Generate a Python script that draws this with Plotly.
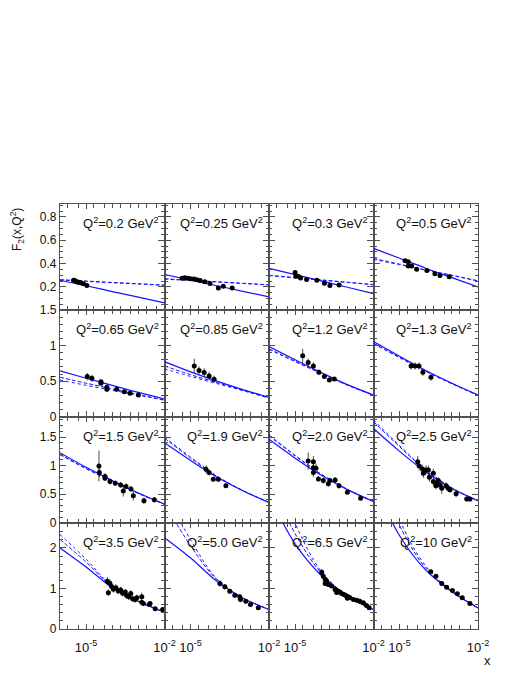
import plotly.graph_objects as go
from plotly.subplots import make_subplots

# ---------------- data ----------------
Q2_LABELS = ["0.2", "0.25", "0.3", "0.5",
             "0.65", "0.85", "1.2", "1.3",
             "1.5", "1.9", "2.0", "2.5",
             "3.5", "5.0", "6.5", "10"]

# x positions where the model curves are read
X_CURVE = [1e-6, 1e-5, 1e-4, 1e-3, 1e-2]

# model curves (solid / dashed / dotted) per panel
solid_1 = [0.257, 0.21, 0.16, 0.112, 0.063]
dash_1 = [0.262, 0.25, 0.238, 0.227, 0.215]
dot_1 = [0.259, 0.247, 0.236, 0.225, 0.213]
solid_2 = [0.306, 0.258, 0.21, 0.162, 0.114]
dash_2 = [0.27, 0.257, 0.244, 0.231, 0.218]
dot_2 = [0.266, 0.254, 0.242, 0.229, 0.216]
solid_3 = [0.358, 0.305, 0.251, 0.197, 0.143]
dash_3 = [0.30, 0.28, 0.26, 0.24, 0.22]
dot_3 = [0.296, 0.277, 0.258, 0.238, 0.218]
solid_4 = [0.53, 0.445, 0.36, 0.28, 0.20]
dash_4 = [0.444, 0.395, 0.345, 0.30, 0.252]
dot_4 = [0.435, 0.39, 0.343, 0.298, 0.25]
solid_5 = [0.643, 0.54, 0.44, 0.34, 0.247]
dash_5 = [0.554, 0.47, 0.39, 0.31, 0.233]
dot_5 = [0.516, 0.44, 0.37, 0.30, 0.23]
solid_6 = [0.775, 0.63, 0.50, 0.38, 0.27]
dash_6 = [0.714, 0.59, 0.48, 0.37, 0.262]
dot_6 = [0.672, 0.565, 0.465, 0.365, 0.26]
solid_7 = [0.987, 0.80, 0.62, 0.45, 0.304]
dash_7 = [0.955, 0.78, 0.61, 0.445, 0.30]
dot_7 = [0.945, 0.775, 0.607, 0.443, 0.30]
solid_8 = [1.058, 0.85, 0.65, 0.47, 0.304]
dash_8 = [1.035, 0.835, 0.64, 0.465, 0.30]
dot_8 = [1.025, 0.83, 0.638, 0.463, 0.30]
solid_9 = [1.227, 0.97, 0.74, 0.52, 0.326]
dash_9 = [1.20, 0.95, 0.73, 0.515, 0.325]
dot_9 = [1.19, 0.945, 0.727, 0.513, 0.324]
solid_10 = [1.40, 1.09, 0.80, 0.56, 0.355]
dash_10 = [1.48, 1.13, 0.81, 0.56, 0.355]
dot_10 = [1.50, 1.15, 0.82, 0.565, 0.356]
solid_11 = [1.46, 1.13, 0.83, 0.58, 0.372]
dash_11 = [1.54, 1.18, 0.85, 0.585, 0.373]
dot_11 = [1.52, 1.17, 0.845, 0.583, 0.372]
solid_12 = [1.65, 1.25, 0.89, 0.60, 0.384]
dash_12 = [1.77, 1.33, 0.92, 0.61, 0.386]
dot_12 = [1.80, 1.35, 0.93, 0.612, 0.386]
solid_13 = [2.0, 1.53, 1.02, 0.68, 0.415]
dash_13 = [2.21, 1.65, 1.04, 0.685, 0.415]
dot_13 = [2.33, 1.72, 1.05, 0.687, 0.416]
solid_14 = [2.25, 1.75, 1.18, 0.76, 0.48]
dash_14 = [3.1, 2.05, 1.22, 0.765, 0.48]
dot_14 = [3.4, 2.2, 1.24, 0.77, 0.48]
solid_15 = [3.3, 2.1, 1.32, 0.80, 0.48]
dash_15 = [3.7, 2.35, 1.38, 0.81, 0.48]
dot_15 = [4.2, 2.6, 1.42, 0.82, 0.48]
solid_16 = [3.6, 2.3, 1.45, 0.92, 0.52]
dash_16 = [4.2, 2.55, 1.50, 0.93, 0.523]
dot_16 = [4.8, 2.7, 1.55, 0.935, 0.525]

# measured points per panel: x, F2, error
x_1 = [3.3e-6, 3.8e-6, 4.4e-6, 5.2e-6, 6.3e-6, 7.9e-6, 1.07e-5]
f2_1 = [0.258, 0.252, 0.245, 0.24, 0.236, 0.228, 0.212]
e_1 = [0.008, 0.008, 0.008, 0.008, 0.008, 0.008, 0.008]
x_2 = [4.7e-6, 6.0e-6, 7.9e-6, 1.02e-5, 1.35e-5, 1.74e-5, 2.3e-5, 3.5e-5, 5.5e-5, 1.15e-4, 1.78e-4, 3.9e-4]
f2_2 = [0.275, 0.278, 0.275, 0.27, 0.268, 0.262, 0.255, 0.245, 0.229, 0.19, 0.206, 0.19]
e_2 = [0.01, 0.01, 0.01, 0.01, 0.01, 0.01, 0.01, 0.01, 0.01, 0.01, 0.01, 0.01]
x_3 = [1.0e-5, 1.07e-5, 1.32e-5, 1.62e-5, 2.75e-5, 6.8e-5, 1.32e-4, 2.14e-4, 4.8e-4]
f2_3 = [0.324, 0.292, 0.292, 0.277, 0.263, 0.258, 0.232, 0.212, 0.217]
e_3 = [0.012, 0.01, 0.01, 0.01, 0.01, 0.01, 0.01, 0.01, 0.01]
x_4 = [1.62e-5, 2.14e-5, 2.14e-5, 2.9e-5, 4.5e-5, 1.1e-4, 2.24e-4, 3.5e-4, 7.9e-4]
f2_4 = [0.423, 0.415, 0.378, 0.378, 0.352, 0.341, 0.312, 0.298, 0.286]
e_4 = [0.012, 0.012, 0.012, 0.012, 0.01, 0.01, 0.01, 0.01, 0.01]
x_5 = [1.11e-5, 1.66e-5, 3.7e-5, 3.7e-5, 6.2e-5, 6.2e-5, 1.48e-4, 2.9e-4, 4.8e-4, 1.0e-3]
f2_5 = [0.563, 0.540, 0.492, 0.470, 0.413, 0.385, 0.385, 0.351, 0.33, 0.304]
e_5 = [0.05, 0.05, 0.03, 0.03, 0.04, 0.04, 0.02, 0.02, 0.02, 0.02]
x_6 = [1.38e-5, 2.1e-5, 3.3e-5, 5.1e-5, 7.9e-5]
f2_6 = [0.714, 0.648, 0.62, 0.573, 0.526]
e_6 = [0.1, 0.06, 0.06, 0.06, 0.05]
x_7 = [1.95e-5, 3.16e-5, 5.0e-5, 8.1e-5, 1.32e-4, 2.04e-4, 3.16e-4]
f2_7 = [0.856, 0.761, 0.714, 0.625, 0.563, 0.516, 0.530]
e_7 = [0.1, 0.06, 0.05, 0.04, 0.03, 0.03, 0.03]
x_8 = [2.75e-5, 3.9e-5, 5.5e-5, 7.8e-5, 1.58e-4]
f2_8 = [0.714, 0.714, 0.714, 0.625, 0.554]
e_8 = [0.05, 0.05, 0.05, 0.05, 0.05]
x_9 = [3.1e-5, 3.2e-5, 5.3e-5, 5.3e-5, 8.2e-5, 1.31e-4, 2.1e-4, 2.65e-4, 3.36e-4, 5.2e-4, 6.4e-4, 1.64e-3, 4.1e-3]
f2_9 = [0.995, 0.878, 0.808, 0.78, 0.721, 0.693, 0.663, 0.558, 0.634, 0.593, 0.471, 0.384, 0.401]
e_9 = [0.27, 0.08, 0.06, 0.05, 0.05, 0.05, 0.05, 0.1, 0.05, 0.05, 0.08, 0.06, 0.05]
x_10 = [3.9e-5, 5.1e-5, 7.4e-5, 1.15e-4, 2.24e-4]
f2_10 = [0.937, 0.878, 0.763, 0.763, 0.646]
e_10 = [0.07, 0.05, 0.04, 0.04, 0.03]
x_11 = [3.16e-5, 5.0e-5, 5.0e-5, 6.3e-5, 5.0e-5, 7.8e-5, 1.2e-4, 1.86e-4, 2.14e-4, 3.4e-4, 4.8e-4, 1.0e-3, 3.2e-3]
f2_11 = [1.08, 1.07, 0.965, 0.954, 0.878, 0.768, 0.738, 0.681, 0.738, 0.75, 0.646, 0.536, 0.431]
e_11 = [0.15, 0.1, 0.1, 0.08, 0.08, 0.05, 0.05, 0.05, 0.05, 0.05, 0.05, 0.03, 0.03]
x_12 = [4.9e-5, 5.6e-5, 7.6e-5, 8.1e-5, 1.02e-4, 1.26e-4, 1.38e-4, 1.95e-4, 1.95e-4, 2.63e-4,
        3.0e-4, 3.55e-4, 4.1e-4, 2.45e-4, 6.0e-4, 7.2e-4, 8.5e-4, 1.45e-3, 3.7e-3, 4.9e-3]
f2_12 = [1.07, 0.995, 0.937, 0.867, 0.925, 0.925, 0.797, 0.867, 0.721, 0.693,
         0.738, 0.658, 0.606, 0.646, 0.646, 0.606, 0.576, 0.506, 0.414, 0.414]
e_12 = [0.1, 0.08, 0.08, 0.08, 0.08, 0.08, 0.08, 0.08, 0.08, 0.06,
        0.06, 0.06, 0.1, 0.06, 0.06, 0.06, 0.05, 0.06, 0.05, 0.04]
x_13 = [6.5e-5, 7.1e-5, 8.1e-5, 9.5e-5, 1.1e-4, 1.38e-4, 1.7e-4, 2.1e-4, 2.5e-4, 3.16e-4, 3.55e-4, 4.3e-4,
        5.1e-4, 6.0e-4, 7.4e-4, 8.7e-4, 1.35e-3, 1.35e-3, 1.55e-3, 2.6e-3, 2.8e-3, 4.4e-3, 8.5e-3]
f2_13 = [1.18, 0.896, 1.127, 1.045, 0.979, 1.02, 0.937, 0.96, 0.879, 0.91, 0.827, 0.795,
         0.877, 0.746, 0.728, 0.77, 0.795, 0.661, 0.63, 0.605, 0.63, 0.498, 0.48]
e_13 = [0.1, 0.08, 0.1, 0.08, 0.08, 0.08, 0.08, 0.08, 0.08, 0.08, 0.08, 0.08,
        0.08, 0.08, 0.08, 0.08, 0.1, 0.06, 0.06, 0.06, 0.06, 0.05, 0.04]
x_14 = [1.32e-4, 2.04e-4, 3.16e-4, 4.9e-4, 7.6e-4, 8.1e-4, 1.29e-3, 1.95e-3, 3.9e-3]
f2_14 = [1.12, 1.04, 0.93, 0.83, 0.795, 0.728, 0.686, 0.605, 0.523]
e_14 = [0.08, 0.07, 0.06, 0.06, 0.06, 0.05, 0.05, 0.05, 0.04]
x_15 = [1.05e-4, 1.2e-4, 1.41e-4, 1.62e-4, 1.86e-4, 2.5e-4, 3.4e-4, 3.9e-4, 4.5e-4, 5.2e-4, 6.0e-4,
        7.4e-4, 8.7e-4, 1.07e-3, 1.26e-3, 1.7e-3, 2.3e-3, 3.0e-3, 4.1e-3, 5.4e-3, 6.8e-3,
        1.41e-4, 3.9e-4, 1.0e-3]
f2_15 = [1.40, 1.30, 1.22, 1.18, 1.10, 1.06, 0.975, 0.958, 0.933, 0.91, 0.877,
         0.852, 0.827, 0.795, 0.77, 0.728, 0.711, 0.686, 0.647, 0.58, 0.523,
         1.12, 0.90, 0.76]
e_15 = [0.08, 0.07, 0.06, 0.05, 0.05, 0.05, 0.04, 0.04, 0.04, 0.04, 0.04,
        0.04, 0.04, 0.04, 0.04, 0.04, 0.04, 0.04, 0.04, 0.04, 0.04,
        0.05, 0.04, 0.04]
x_16 = [1.55e-4, 2.45e-4, 4.1e-4, 6.3e-4, 1.05e-3, 1.62e-3, 2.5e-3, 4.9e-3]
f2_16 = [1.41, 1.30, 1.12, 1.03, 0.95, 0.87, 0.77, 0.63]
e_16 = [0.06, 0.05, 0.04, 0.04, 0.03, 0.03, 0.03, 0.03]

# axis settings per row
Y_RANGES = [[0, 0.91], [0, 1.5], [0, 1.86], [0, 2.62]]
Y_TICKS = [[0.2, 0.4, 0.6, 0.8], [0, 0.5, 1, 1.5], [0, 0.5, 1, 1.5], [0, 1, 2]]
Y_TICKTEXT = [["0.2", "0.4", "0.6", "0.8"], ["0", "0.5", "1", "1.5"],
              ["0", "0.5", "1", "1.5"], ["0", "1", "2"]]
Y_MINOR = [0.05, 0.1, 0.1, 0.2]
X_LABELED = [1e-5, 1e-2]
X_LABEL_TEXT = ["10<sup>-5</sup>", "10<sup>-2</sup>"]
X_MINOR = [2e-6, 5e-6, 2e-5, 5e-5, 1e-4, 2e-4, 5e-4, 1e-3, 2e-3, 5e-3]

SOLIDS = [solid_1, solid_2, solid_3, solid_4, solid_5, solid_6, solid_7, solid_8,
          solid_9, solid_10, solid_11, solid_12, solid_13, solid_14, solid_15, solid_16]
DASHES = [dash_1, dash_2, dash_3, dash_4, dash_5, dash_6, dash_7, dash_8,
          dash_9, dash_10, dash_11, dash_12, dash_13, dash_14, dash_15, dash_16]
DOTS = [dot_1, dot_2, dot_3, dot_4, dot_5, dot_6, dot_7, dot_8,
        dot_9, dot_10, dot_11, dot_12, dot_13, dot_14, dot_15, dot_16]
XS = [x_1, x_2, x_3, x_4, x_5, x_6, x_7, x_8, x_9, x_10, x_11, x_12, x_13, x_14, x_15, x_16]
FS = [f2_1, f2_2, f2_3, f2_4, f2_5, f2_6, f2_7, f2_8, f2_9, f2_10, f2_11, f2_12, f2_13, f2_14, f2_15, f2_16]
ES = [e_1, e_2, e_3, e_4, e_5, e_6, e_7, e_8, e_9, e_10, e_11, e_12, e_13, e_14, e_15, e_16]

# ---------------- figure ----------------
FONT = "Liberation Sans, Arial, sans-serif"
BLUE = "#1414ff"
FRAME = "#505050"

# page body has an 8px margin: figure is sized/placed to compensate
W, H = 516, 662
ML, MT, PW, PH = 52, 196, 418, 425

fig = make_subplots(rows=4, cols=4, horizontal_spacing=0, vertical_spacing=0)

for i in range(16):
    r, c = i // 4 + 1, i % 4 + 1
    fig.add_trace(go.Scatter(x=X_CURVE, y=DOTS[i], mode="lines", line_shape="spline",
                             line=dict(color=BLUE, width=1, dash="dot")), row=r, col=c)
    fig.add_trace(go.Scatter(x=X_CURVE, y=DASHES[i], mode="lines", line_shape="spline",
                             line=dict(color=BLUE, width=1, dash="4px,2px")), row=r, col=c)
    fig.add_trace(go.Scatter(x=X_CURVE, y=SOLIDS[i], mode="lines", line_shape="spline",
                             line=dict(color=BLUE, width=1.2)), row=r, col=c)
    fig.add_trace(go.Scatter(x=XS[i], y=FS[i], mode="markers",
                             marker=dict(color="black", size=5),
                             error_y=dict(type="data", array=ES[i], color="#222",
                                          thickness=0.8, width=0)), row=r, col=c)
    fig.update_xaxes(type="log", range=[-6, -2],
                     tickmode="array", tickvals=X_LABELED,
                     ticktext=X_LABEL_TEXT, showticklabels=(r == 4),
                     ticklabelstandoff=6,
                     ticks="inside", ticklen=5, tickcolor=FRAME, tickwidth=1,
                     minor=dict(tickmode="array", tickvals=X_MINOR, ticks="inside",
                                ticklen=4, tickcolor=FRAME, showgrid=False),
                     showline=True, linecolor=FRAME, linewidth=1.2, mirror="allticks",
                     showgrid=False, zeroline=False,
                     tickfont=dict(family=FONT, size=13, color="#111"),
                     row=r, col=c)
    fig.update_yaxes(range=Y_RANGES[r - 1], tickmode="array",
                     tickvals=Y_TICKS[r - 1], ticktext=Y_TICKTEXT[r - 1],
                     showticklabels=(c == 1),
                     ticks="inside", ticklen=6, tickcolor=FRAME, tickwidth=1,
                     minor=dict(dtick=Y_MINOR[r - 1], tick0=0, ticks="inside",
                                ticklen=3, tickcolor=FRAME, showgrid=False),
                     showline=True, linecolor=FRAME, linewidth=1.2, mirror="allticks",
                     showgrid=False, zeroline=False,
                     tickfont=dict(family=FONT, size=12, color="#111"),
                     row=r, col=c)
    xref = "x domain" if i == 0 else f"x{i + 1} domain"
    yref = "y domain" if i == 0 else f"y{i + 1} domain"
    fig.add_annotation(text=f"Q<sup>2</sup>={Q2_LABELS[i]} GeV<sup>2</sup>",
                       xref=xref, yref=yref, x=0.965, y=0.82,
                       xanchor="right", yanchor="middle", showarrow=False,
                       font=dict(family=FONT, size=13, color="#111"))

fig.add_annotation(text="F<sub>2</sub>(x,Q<sup>2</sup>)", xref="paper", yref="paper",
                   x=(9 - ML) / PW, y=1 - (230 - 204) / PH, textangle=-90,
                   xanchor="center", yanchor="middle", showarrow=False,
                   font=dict(family=FONT, size=12, color="#111"))
fig.add_annotation(text="x", xref="paper", yref="paper",
                   x=(487 - 60) / PW, y=-(H - MT - PH) / PH,
                   xanchor="center", yanchor="bottom", showarrow=False,
                   font=dict(family=FONT, size=13, color="#111"))

fig.update_layout(width=W, height=H, showlegend=False,
                  margin=dict(l=ML, r=W - ML - PW, t=MT, b=H - MT - PH, pad=0),
                  plot_bgcolor="white", paper_bgcolor="white")

fig.write_html("out.html", config={"displayModeBar": False})
